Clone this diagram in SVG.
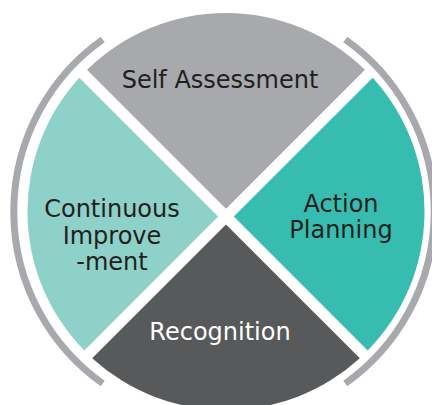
<svg xmlns="http://www.w3.org/2000/svg" width="432" height="405" viewBox="0 0 432 405">
  <style>
    .lbl { font-family: "DejaVu Sans", "Liberation Sans", sans-serif; font-size: 24px; text-anchor: middle; fill: #231f20; }
    .light { fill: #ffffff; }
    .ring { fill: none; stroke: #a7a9ac; stroke-width: 7; stroke-linecap: butt; }
  </style>
  <rect width="432" height="405" fill="#ffffff"/>
  <g id="connectors">
    <path class="ring" d="M102.7,383.5 A210.8,210.8 0 0 1 102.7,39.5"/>
    <path class="ring" d="M345.3,39.5 A210.8,210.8 0 0 1 345.3,383.5"/>
  </g>
  <g id="self-assessment">
    <path d="M226,208.8 L87,69.8 A198.5,198.5 0 0 1 365,69.8 Z" fill="#a7a9ac"/>
    <text class="lbl" x="220" y="88" font-size="23.5">Self Assessment</text>
  </g>
  <g id="action-planning">
    <path d="M233.8,216.6 L372.7,77.7 A198.5,198.5 0 0 1 367.7,350.5 Z" fill="#37bdaf"/>
    <text class="lbl" x="341" y="212">Action</text>
    <text class="lbl" x="341" y="238">Planning</text>
  </g>
  <g id="recognition">
    <path d="M226,224.4 L359.8,358.2 A198.5,198.5 0 0 1 92.2,358.2 Z" fill="#58595b"/>
    <text class="lbl light" x="220" y="340">Recognition</text>
  </g>
  <g id="continuous-improvement">
    <path d="M218.2,216.6 L84.3,350.5 A198.5,198.5 0 0 1 79.3,77.7 Z" fill="#8dd1c8"/>
    <text class="lbl" x="112" y="217">Continuous</text>
    <text class="lbl" x="112" y="244">Improve</text>
    <text class="lbl" x="112" y="270">-ment</text>
  </g>
</svg>
